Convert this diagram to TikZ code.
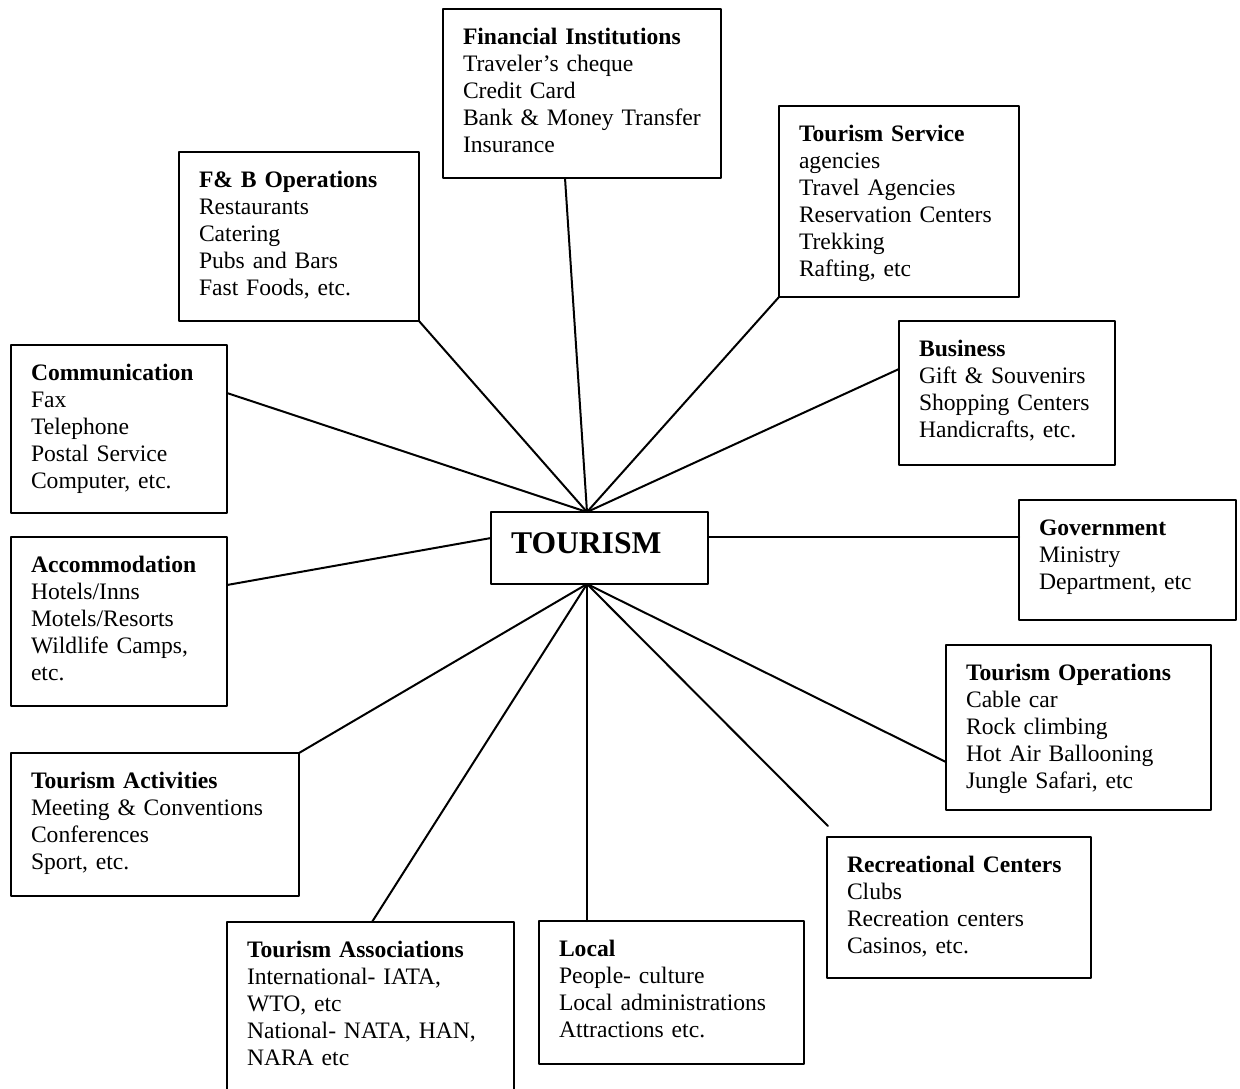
\documentclass[tikz,border=0pt]{standalone}
\usepackage{fontspec}
\setmainfont{Liberation Serif}
\tikzset{
  topic/.style={draw, line width=2pt, anchor=north west, align=left, outer sep=0pt,
    inner xsep=20pt, inner ysep=18pt, text height=17pt,
    font=\fontsize{23.6}{27}\selectfont},
  link/.style={line width=2pt}
}
\begin{document}
\begin{tikzpicture}[x=1pt, y=-1pt, line join=round, line cap=round]
\clip (0,0) rectangle (1240,1088);

% centre
\node[topic, text width=177pt, text height=22pt, text depth=12pt, inner ysep=19pt,
  font=\fontsize{31.6}{36}\selectfont\bfseries] (tour) at (491,512) {TOURISM};
\coordinate (hubN) at ([xshift=-12.5pt]tour.north);
\coordinate (hubS) at ([xshift=-12.5pt]tour.south);

% upper ring
\node[topic, text width=238pt, text depth=116pt] (fin) at (443,9)
  {\textbf{Financial Institutions}\\Traveler’s cheque\\Credit Card\\\mbox{Bank \& Money Transfer}\\Insurance};
\node[topic, text width=200pt, text depth=116pt] (fb) at (179,152)
  {\textbf{F\& B Operations}\\Restaurants\\Catering\\Pubs and Bars\\Fast Foods, etc.};
\node[topic, text width=200pt, text depth=138pt] (ts) at (779,106)
  {\textbf{Tourism Service}\\agencies\\Travel Agencies\\\mbox{Reservation Centers}\\Trekking\\Rafting, etc};
\node[topic, text width=176pt, text depth=115pt] (com) at (11,345)
  {\textbf{Communication}\\Fax\\Telephone\\Postal Service\\Computer, etc.};
\node[topic, text width=176pt, text depth=91pt] (bus) at (899,321)
  {\textbf{Business}\\Gift \& Souvenirs\\\mbox{Shopping Centers}\\Handicrafts, etc.};

% middle
\node[topic, text width=177pt, text depth=67pt] (gov) at (1019,500)
  {\textbf{Government}\\Ministry\\Department, etc};
\node[topic, text width=176pt, text depth=116pt] (acc) at (11,537)
  {\textbf{Accommodation}\\Hotels/Inns\\Motels/Resorts\\Wildlife Camps,\\etc.};

% lower ring
\node[topic, text width=225pt, text depth=112pt] (ops) at (946,645)
  {\textbf{Tourism Operations}\\Cable car\\Rock climbing\\Hot Air Ballooning\\Jungle Safari, etc};
\node[topic, text width=248pt, text depth=90pt] (act) at (11,753)
  {\textbf{Tourism Activities}\\\mbox{Meeting \& Conventions}\\Conferences\\Sport, etc.};
\node[topic, text width=224pt, text depth=88pt] (rec) at (827,837)
  {\textbf{\mbox{Recreational Centers}}\\Clubs\\Recreation centers\\Casinos, etc.};
\node[topic, text width=247pt, text depth=127pt] (asc) at (227,922)
  {\textbf{\mbox{Tourism Associations}}\\International- IATA,\\WTO, etc\\\mbox{National- NATA, HAN,}\\NARA etc};
\node[topic, text width=225pt, text depth=90pt] (loc) at (539,921)
  {\textbf{Local}\\People- culture\\\mbox{Local administrations}\\Attractions etc.};
\coordinate (recEnd) at ([shift={(1pt,11pt)}]rec.north west);

% spokes
\draw[link] ([yshift=-48pt]com.north east) -- (hubN);
\draw[link] (fb.south east) -- (hubN);
\draw[link] ([xshift=122pt]fin.south west) -- (hubN);
\draw[link] (ts.south west) -- (hubN);
\draw[link] ([yshift=-48pt]bus.north west) -- (hubN);
\draw[link] ([yshift=-25pt]tour.north east) -- ([yshift=-37pt]gov.north west);
\draw[link] ([yshift=-48pt]acc.north east) -- ([yshift=-26pt]tour.north west);
\draw[link] (hubS) -- (act.north east);
\draw[link] (hubS) -- ([xshift=145pt]asc.north west);
\draw[link] (hubS) -- ([xshift=48pt]loc.north west);
\draw[link] (hubS) -- (recEnd);
\draw[link] (hubS) -- ([yshift=-117pt]ops.north west);
\end{tikzpicture}
\end{document}
